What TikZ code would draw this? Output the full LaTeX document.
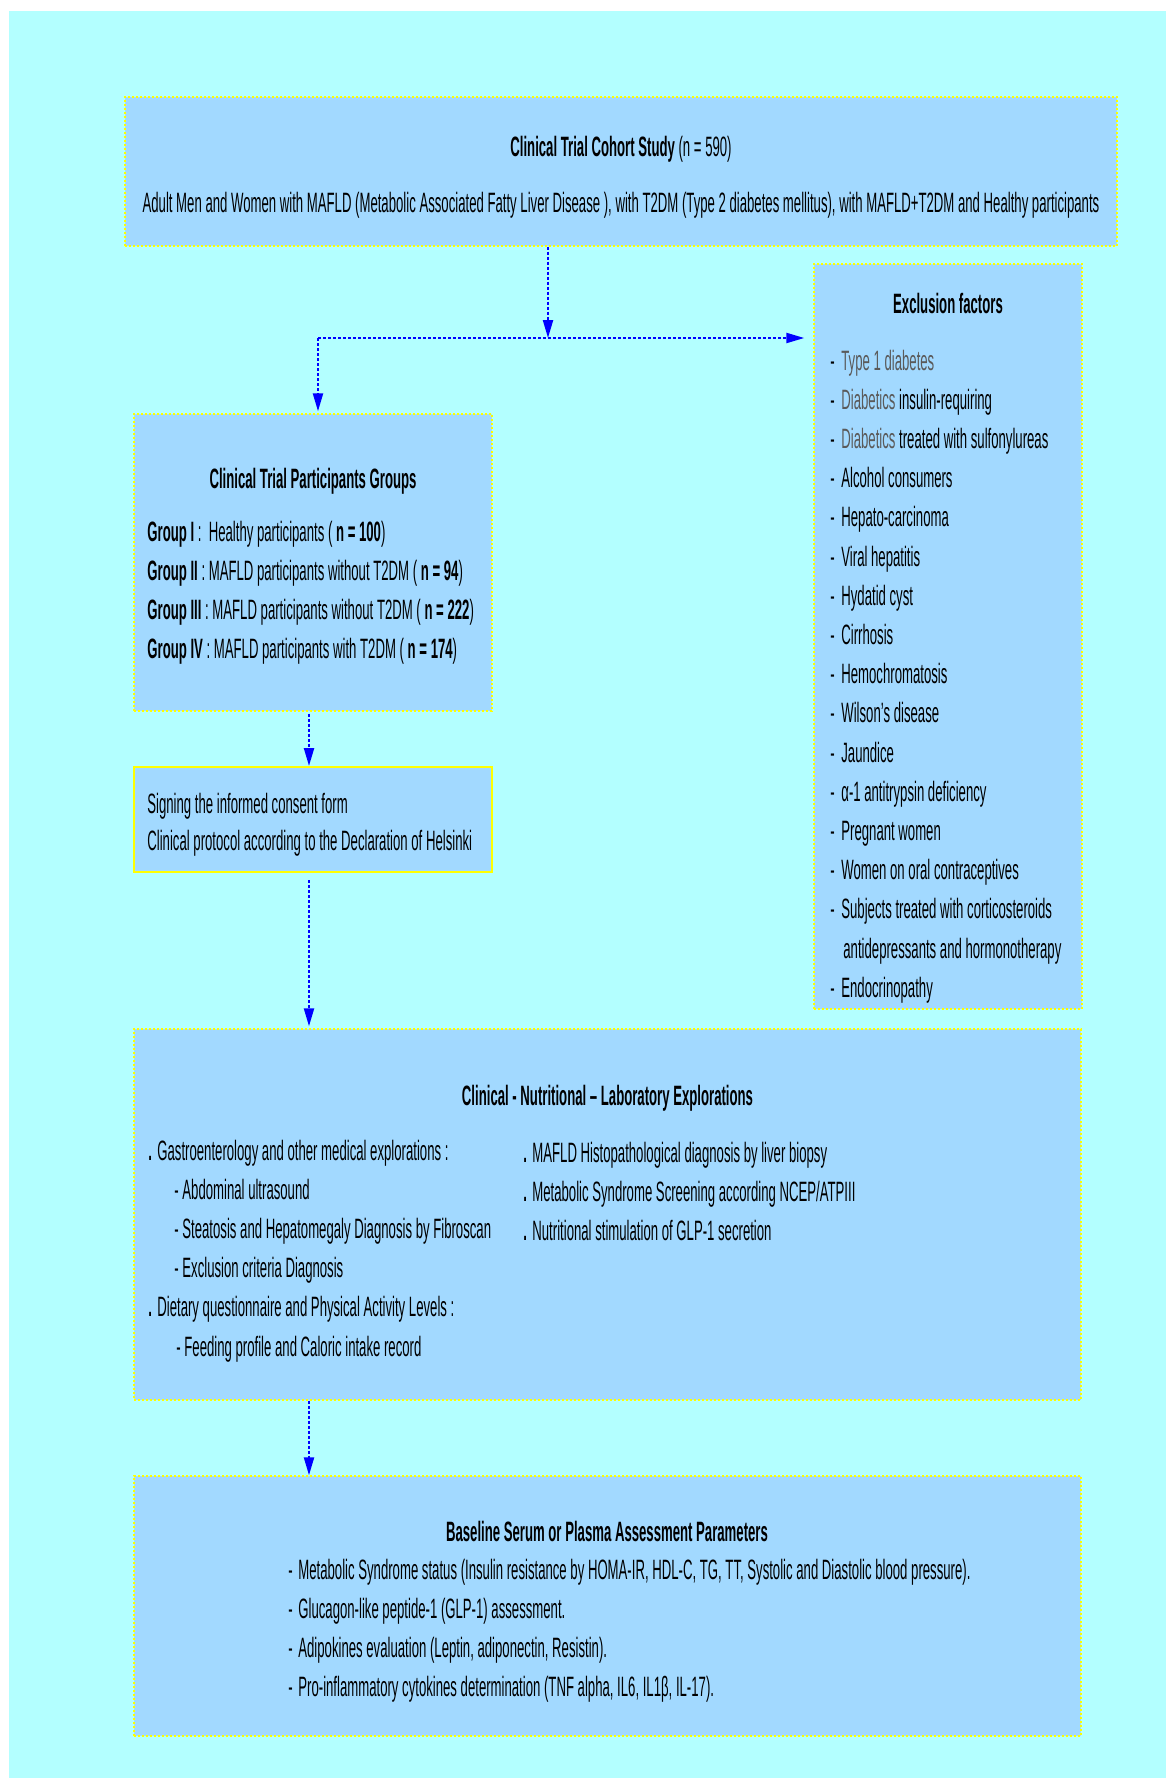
\documentclass[tikz,border=0pt]{standalone}
\usepackage{fontspec}
\setmainfont{Liberation Sans}[FakeStretch=0.47]
\usetikzlibrary{arrows.meta}
\definecolor{bgCyan}{HTML}{B3FFFF}
\definecolor{skyFill}{HTML}{A2D9FF}
\definecolor{arrowBlue}{HTML}{0000FF}
\definecolor{boxEdge}{HTML}{FFFF00}
\definecolor{greyText}{HTML}{5A5A5A}
\newcommand{\dashItem}{\makebox[5.5pt][l]{-}}
\newcommand{\dotItem}{\makebox[4.5pt][l]{\textbf{.}}}

\begin{document}
\begin{tikzpicture}[x=0.5pt, y=-0.5pt,
        flowBox/.style={draw=boxEdge, fill=skyFill, line width=0.7pt, dash pattern=on 1pt off 1pt, inner sep=0pt},
        flowText/.style={font=\fontsize{14}{19.6}\selectfont, inner sep=0pt},
        listText/.style={flowText, align=left, text width=#1, execute at begin node={\spaceskip=0pt\xspaceskip=0pt}},
        flowArrow/.style={-{Triangle[length=9pt, width=5pt]}, draw=arrowBlue, line width=1.1pt, dash pattern=on 1.5pt off 1pt}
    ]
        % Background
        \useasboundingbox (0,0) rectangle (1166,1778);
        \fill[white] (0,0) rectangle (1166,1778);
        \fill[bgCyan] (9,11) rectangle (1166,1778);

        % Cohort
        \node[flowBox, minimum width=496pt, minimum height=74.5pt] (cohortBox) at (621,171.5) {};
        \node[flowText, anchor=base] (cohortTitle) at (621,156) {\textbf{Clinical Trial Cohort Study} (n = 590)};
        \node[flowText, anchor=base] (cohortText) at (621,212) {Adult Men and Women with MAFLD (Metabolic Associated Fatty Liver Disease ), with T2DM (Type 2 diabetes mellitus), with MAFLD+T2DM and Healthy participants};

        % Exclusion factors
        \node[flowBox, minimum width=134pt, minimum height=372.5pt] (exclBox) at (948,636.5) {};
        \node[flowText, anchor=base] (exclTitle) at (948,313) {\textbf{Exclusion factors}};
        \node[listText=200pt, anchor=base west] (exclList) at (830,370) {
            \dashItem{\color{greyText}Type 1 diabetes}\\
            \dashItem{\color{greyText}Diabetics} insulin-requiring\\
            \dashItem{\color{greyText}Diabetics} treated with sulfonylureas\\
            \dashItem Alcohol consumers\\
            \dashItem Hepato-carcinoma\\
            \dashItem Viral hepatitis\\
            \dashItem Hydatid cyst\\
            \dashItem Cirrhosis\\
            \dashItem Hemochromatosis\\
            \dashItem Wilson's disease\\
            \dashItem Jaundice\\
            \dashItem α-1 antitrypsin deficiency\\
            \dashItem Pregnant women\\
            \dashItem Women on oral contraceptives\\
            \dashItem Subjects treated with corticosteroids\\
            \hspace*{6.5pt}antidepressants and hormonotherapy\\
            \dashItem Endocrinopathy
        };

        % Participants groups
        \node[flowBox, minimum width=179pt, minimum height=148.5pt] (groupsBox) at (313,562.5) {};
        \node[flowText, anchor=base] (groupsTitle) at (313,488) {\textbf{Clinical Trial Participants Groups}};
        \node[listText=250pt, anchor=base west] (groupsList) at (147,541) {
            \textbf{Group I} :~ Healthy participants ( \textbf{n = 100})\\
            \textbf{Group II} : MAFLD participants without T2DM ( \textbf{n = 94})\\
            \textbf{Group III} : MAFLD participants without T2DM ( \textbf{n = 222})\\
            \textbf{Group IV} : MAFLD participants with T2DM ( \textbf{n = 174})
        };

        % Consent
        \node[flowBox, solid, line width=1pt, minimum width=179pt, minimum height=52.5pt] (consentBox) at (313,819.5) {};
        \node[listText=250pt, anchor=base west] (consentText) at (147,813) {
            Signing the informed consent form\\[-1.1pt]
            Clinical protocol according to the Declaration of Helsinki
        };

        % Explorations
        \node[flowBox, minimum width=473.5pt, minimum height=185.5pt] (explBox) at (607.5,1214.5) {};
        \node[flowText, anchor=base] (explTitle) at (607.5,1105) {\textbf{Clinical - Nutritional – Laboratory Explorations}};
        \node[listText=250pt, anchor=base west] (explLeft) at (148,1160) {
            \dotItem Gastroenterology and other medical explorations :\\
            \hspace*{13pt}- Abdominal ultrasound\\
            \hspace*{13pt}- Steatosis and Hepatomegaly Diagnosis by Fibroscan\\
            \hspace*{13pt}- Exclusion criteria Diagnosis\\
            \dotItem Dietary questionnaire and Physical Activity Levels :\\
            \hspace*{14pt}- Feeding profile and Caloric intake record
        };
        \node[listText=250pt, anchor=base west] (explRight) at (523,1162) {
            \dotItem MAFLD Histopathological diagnosis by liver biopsy\\
            \dotItem Metabolic Syndrome Screening according NCEP/ATPIII\\
            \dotItem Nutritional stimulation of GLP-1 secretion
        };

        % Baseline parameters
        \node[flowBox, minimum width=473.5pt, minimum height=130pt] (baseBox) at (607.5,1606) {};
        \node[flowText, anchor=base] (baseTitle) at (607,1541) {\textbf{Baseline Serum or Plasma Assessment Parameters}};
        \node[listText=420pt, anchor=base west] (baseList) at (288,1579) {
            \makebox[5pt][l]{-}Metabolic Syndrome status (Insulin resistance by HOMA-IR, HDL-C, TG, TT, Systolic and Diastolic blood pressure).\\
            \makebox[5pt][l]{-}Glucagon-like peptide-1 (GLP-1) assessment.\\
            \makebox[5pt][l]{-}Adipokines evaluation (Leptin, adiponectin, Resistin).\\
            \makebox[5pt][l]{-}Pro-inflammatory cytokines determination (TNF alpha, IL6, IL1β, IL-17).
        };

        % Connectors
        \coordinate (splitPt) at (548,338);
        \coordinate (leftPt) at (318,338);
        \coordinate (flowAxis) at (309,0);
        \draw[flowArrow] (cohortBox.south -| splitPt) -- (splitPt);
        \draw[flowArrow, shorten >=4.5pt] (leftPt) -- (exclBox.west |- leftPt);
        \draw[flowArrow, shorten >=1pt] (leftPt) -- (leftPt |- groupsBox.north);
        \draw[flowArrow, shorten <=1pt] (groupsBox.south -| flowAxis) -- (consentBox.north -| flowAxis);
        \draw[flowArrow, shorten <=3.5pt, shorten >=1pt] (consentBox.south -| flowAxis) -- (explBox.north -| flowAxis);
        \draw[flowArrow] (explBox.south -| flowAxis) -- (baseBox.north -| flowAxis);
    \end{tikzpicture}
\end{document}
